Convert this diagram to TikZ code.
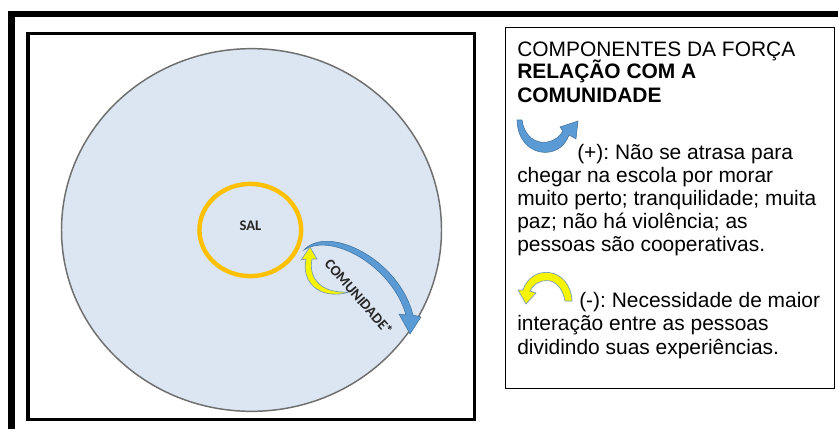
\documentclass[tikz,border=0pt]{standalone}
\usepackage{fontspec}
\setmainfont{Liberation Sans}
\newfontfamily\calfont{Carlito}
\usetikzlibrary{positioning,calc,arrows.meta,shapes.geometric}
\definecolor{ringorange}{HTML}{FFC000}
\definecolor{schoolblue}{HTML}{DCE6F2}
\definecolor{rimgray}{HTML}{6E6E6E}
\definecolor{arcblue}{HTML}{5B9BD5}
\definecolor{arcedge}{HTML}{41719C}
\definecolor{arcyellow}{HTML}{F5F500}
\definecolor{inkdark}{HTML}{262626}
\frenchspacing

\begin{document}
\begin{tikzpicture}[x=0.75pt,y=-0.75pt,
  txt/.style={anchor=base west,inner sep=0,font=\fontsize{15.7}{17.6}\selectfont},
  lbl/.style={inner sep=0,text=inkdark,font=\calfont\bfseries\fontsize{11}{13}\selectfont},
  blueshape/.style={fill=arcblue,draw=arcedge,line width=0.4pt},
  yellowshape/.style={fill=arcyellow,draw=arcedge!70,line width=0.5pt}]
\useasboundingbox (0,0) rectangle (838,428);
\fill[white] (0,0) rectangle (838,428);
\draw[line width=4.8pt] (11.5,440) -- (11.5,14) -- (850,14);
\draw[line width=2.6pt] (28,33.3) rectangle (474.5,419.5);
\node[ellipse,draw=rimgray,line width=1.1pt,fill=schoolblue,minimum width=285pt,minimum height=272pt,inner sep=0] (comm) at (251.5,230) {};
\node[ellipse,draw=ringorange,line width=3.3pt,minimum width=76.3pt,minimum height=69.2pt,inner sep=0] (sal) at (250.3,230) {};
\node[lbl] (sallbl) at (250.5,225.7) {SAL};
\filldraw[blueshape] (304,250) .. controls (328,224) and (399,259) .. (413,315) -- (421,317) -- (410,334) -- (399,314) -- (406,315) .. controls (392,266) and (332,232) .. (304,250) -- cycle;
\filldraw[yellowshape] (350,292) .. controls (318,301) and (301,281) .. (306,259) -- (301,260) -- (310,247) -- (317,259) -- (312,259) .. controls (308,279) and (322,294) .. (350,292) -- cycle;
\node[lbl,rotate=-49] (commlbl) at (359,297) {COMUNIDADE*};
\node[draw,line width=0.75pt,minimum width=247.1pt,minimum height=270.4pt,inner sep=0] (infobox) at (670.25,207.75) {};
\node[txt] (head1) at (517,56) {COMPONENTES DA FORÇA};
\node[txt] (head2) at (517,79) {\bfseries RELAÇÃO COM A};
\node[txt] (head3) at (517,102) {\bfseries COMUNIDADE};
\filldraw[blueshape] (517,120) .. controls (518,158) and (560,162) .. (569,135) -- (576,139) -- (578,121) -- (560,127) -- (563,131) .. controls (553,148) and (526,147) .. (522,120) -- cycle;
\node[txt] (plus1) at (577,159) {(+): Não se atrasa para};
\node[txt] (plus2) at (517,182.5) {chegar na escola por morar};
\node[txt] (plus3) at (517,205.5) {muito perto; tranquilidade; muita};
\node[txt] (plus4) at (517,228.5) {paz; não há violência; as};
\node[txt] (plus5) at (517,251) {pessoas são cooperativas.};
\filldraw[yellowshape] (572,301) .. controls (570,266) and (531,264) .. (523,290) -- (518,290) -- (526,304) -- (536,293) -- (530,291) .. controls (537,277) and (560,274) .. (565,301) -- cycle;
\node[txt] (minus1) at (579,307) {(-): Necessidade de maior};
\node[txt] (minus2) at (517,330.5) {interação entre as pessoas};
\node[txt] (minus3) at (517,354) {dividindo suas experiências.};
\end{tikzpicture}
\end{document}
